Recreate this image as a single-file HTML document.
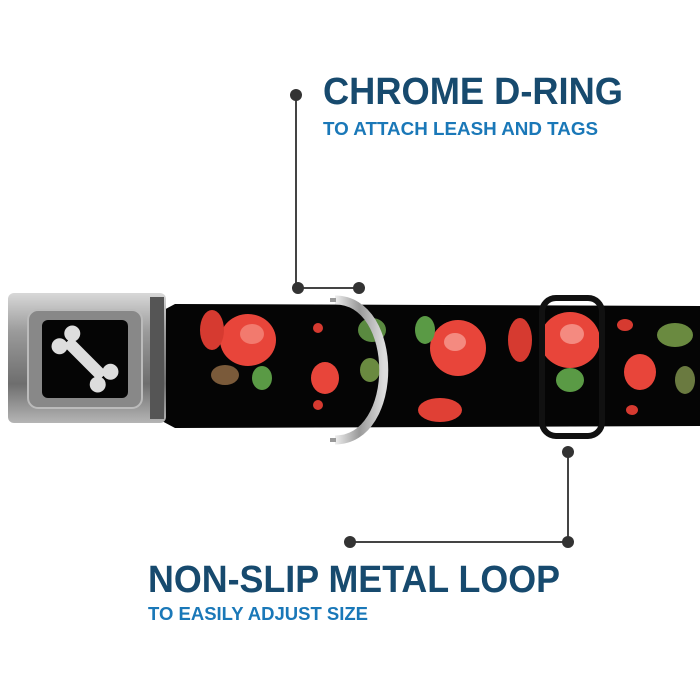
<!DOCTYPE html>
<html><head><style>html,body{margin:0;padding:0;background:#fff}</style></head>
<body>
<svg width="700" height="700" viewBox="0 0 700 700" xmlns="http://www.w3.org/2000/svg" style="display:block">
<defs>
<linearGradient id="met" x1="0" y1="0" x2="0" y2="1">
<stop offset="0" stop-color="#d8d8d8"/><stop offset="0.3" stop-color="#9a9a9a"/><stop offset="0.7" stop-color="#6e6e6e"/><stop offset="1" stop-color="#b5b5b5"/></linearGradient>
<linearGradient id="ring" x1="0" y1="0" x2="1" y2="0">
<stop offset="0" stop-color="#eee"/><stop offset="0.5" stop-color="#999"/><stop offset="1" stop-color="#ddd"/></linearGradient>
</defs>
<rect width="700" height="700" fill="#fff"/>
<!-- title -->
<text x="323" y="104" font-family="Liberation Sans, sans-serif" font-weight="bold" font-size="38" fill="#174a6e" textLength="300" lengthAdjust="spacingAndGlyphs">CHROME D-RING</text>
<text x="323" y="135" font-family="Liberation Sans, sans-serif" font-weight="bold" font-size="18" fill="#1a78b8" textLength="275" lengthAdjust="spacingAndGlyphs">TO ATTACH LEASH AND TAGS</text>
<!-- top connector -->
<line x1="296" y1="95" x2="296" y2="288" stroke="#444" stroke-width="2"/>
<line x1="296" y1="288" x2="360" y2="288" stroke="#444" stroke-width="2"/>
<circle cx="296" cy="95" r="6" fill="#333"/>
<circle cx="298" cy="288" r="6" fill="#333"/>
<circle cx="359" cy="288" r="6" fill="#333"/>
<!-- strap -->
<path d="M160 312 L175 304 L700 306 L700 426 L175 428 L160 420 Z" fill="#050505"/>
<!-- roses -->
<g>
<ellipse cx="248" cy="340" rx="28" ry="26" fill="#e8453a"/><ellipse cx="252" cy="334" rx="12" ry="10" fill="#f27a6e"/>
<ellipse cx="212" cy="330" rx="12" ry="20" fill="#d63a30"/>
<ellipse cx="225" cy="375" rx="14" ry="10" fill="#7a5a3a"/><ellipse cx="262" cy="378" rx="10" ry="12" fill="#5a9a45"/>
<ellipse cx="325" cy="378" rx="14" ry="16" fill="#e8453a"/><ellipse cx="372" cy="330" rx="14" ry="12" fill="#5a8a40"/>
<ellipse cx="370" cy="370" rx="10" ry="12" fill="#6a8a40"/>
<ellipse cx="458" cy="348" rx="28" ry="28" fill="#e8453a"/><ellipse cx="455" cy="342" rx="11" ry="9" fill="#f48a80"/>
<ellipse cx="440" cy="410" rx="22" ry="12" fill="#e04035"/>
<ellipse cx="425" cy="330" rx="10" ry="14" fill="#5a9a45"/>
<ellipse cx="520" cy="340" rx="12" ry="22" fill="#d63a30"/>
<ellipse cx="570" cy="340" rx="30" ry="28" fill="#e8453a"/><ellipse cx="572" cy="334" rx="12" ry="10" fill="#f48a80"/>
<ellipse cx="570" cy="380" rx="14" ry="12" fill="#5a9a45"/>
<ellipse cx="640" cy="372" rx="16" ry="18" fill="#e8453a"/>
<ellipse cx="675" cy="335" rx="18" ry="12" fill="#6a8a40"/><ellipse cx="685" cy="380" rx="10" ry="14" fill="#6a7a40"/>
<ellipse cx="625" cy="325" rx="8" ry="6" fill="#d63a30"/><ellipse cx="632" cy="410" rx="6" ry="5" fill="#d63a30"/>
<ellipse cx="318" cy="405" rx="5" ry="5" fill="#d63a30"/><ellipse cx="318" cy="328" rx="5" ry="5" fill="#d63a30"/>
</g>
<!-- D-ring -->
<path d="M335 300 C400 300 400 440 335 440" fill="none" stroke="url(#ring)" stroke-width="9"/>
<path d="M333 298 L333 302 M333 438 L333 442" stroke="#999" stroke-width="6"/>
<!-- loop -->
<rect x="542" y="298" width="60" height="138" rx="14" fill="none" stroke="#111" stroke-width="6"/>
<!-- buckle -->
<rect x="8" y="293" width="158" height="130" rx="6" fill="url(#met)"/>
<rect x="150" y="297" width="14" height="122" fill="#555"/>
<rect x="28" y="310" width="114" height="98" rx="10" fill="#888" stroke="#bbb" stroke-width="2"/>
<rect x="42" y="320" width="86" height="78" rx="6" fill="#050505"/>
<g fill="#ddd" transform="rotate(45 85 359)">
<rect x="60" y="353" width="50" height="12" rx="4"/>
<circle cx="58" cy="350" r="8"/><circle cx="58" cy="368" r="8"/>
<circle cx="112" cy="350" r="8"/><circle cx="112" cy="368" r="8"/>
</g>
<!-- bottom connector -->
<line x1="568" y1="452" x2="568" y2="542" stroke="#444" stroke-width="2"/>
<line x1="350" y1="542" x2="568" y2="542" stroke="#444" stroke-width="2"/>
<circle cx="568" cy="452" r="6" fill="#333"/>
<circle cx="350" cy="542" r="6" fill="#333"/>
<circle cx="568" cy="542" r="6" fill="#333"/>
<!-- bottom text -->
<text x="148" y="592" font-family="Liberation Sans, sans-serif" font-weight="bold" font-size="38" fill="#174a6e" textLength="412" lengthAdjust="spacingAndGlyphs">NON-SLIP METAL LOOP</text>
<text x="148" y="620" font-family="Liberation Sans, sans-serif" font-weight="bold" font-size="18" fill="#1a78b8" textLength="220" lengthAdjust="spacingAndGlyphs">TO EASILY ADJUST SIZE</text>
</svg>
</body></html>
